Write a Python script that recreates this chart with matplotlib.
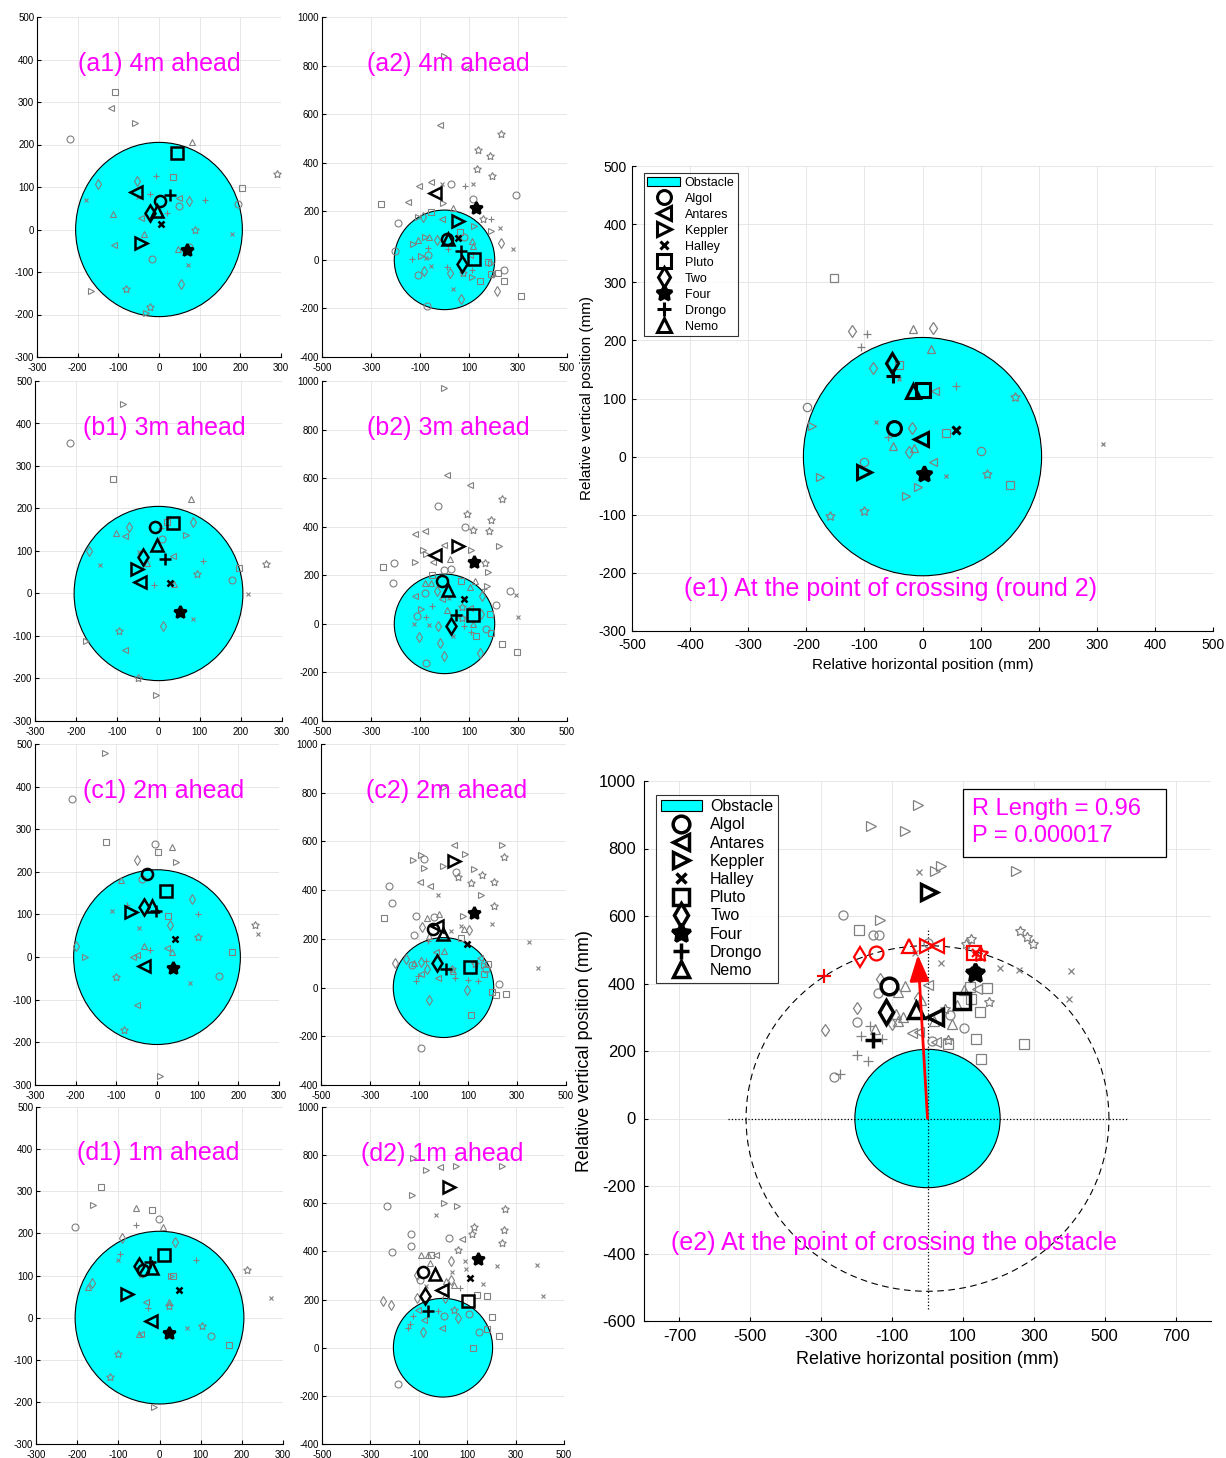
import numpy as np
import matplotlib
matplotlib.use("Agg")
import matplotlib.pyplot as plt
from matplotlib.patches import Circle, Rectangle

plt.rcParams["font.family"] = ["Liberation Sans", "DejaVu Sans"]
plt.rcParams["axes.unicode_minus"] = False

# individuals, in legend order
NAMES = ["Algol", "Antares", "Keppler", "Halley", "Pluto", "Two", "Four", "Drongo", "Nemo"]
MARKERS = ["o", "<", ">", "x", "s", "d", "*", "+", "^"]

OBSTACLE_R = 205

# ---- single trials (grey) and individual means (black), per panel ----
a1_trials = [("o", -218, 214), ("s", -109, 323), ("<", -117, 286), (">", -58, 251), ("^", 81, 206),
             ("*", 289, 130), ("s", 205, 98), ("o", 195, 59), ("x", 179, -11), ("d", -151, 107),
             ("d", -55, 114), ("+", -8, 126), ("s", 34, 123), ("x", -180, 70), ("+", -22, 84),
             ("x", -51, 76), ("<", 49, 73), ("d", 75, 68), ("+", 114, 69), ("o", 50, 56),
             ("+", 20, 40), ("^", -114, 37), ("<", -44, 26), ("^", -36, -11), ("<", -111, -36),
             ("*", 88, -1), ("o", -16, -69), ("^", 46, -45), ("o", 75, -40), ("x", 71, -83),
             ("d", 53, -128), (">", -168, -145), ("*", -82, -141), ("*", -21, -182), (">", -31, -196)]
a1_mean_x = [2, -56, -45, 5, 44, -21, 69, 27, -4]
a1_mean_y = [66, 89, -32, 12, 181, 39, -49, 81, 44]

a2_trials = [(">", -3, 839), ("<", 92, 789), ("<", -20, 557), ("*", 229, 520), ("*", 137, 454),
             ("*", 187, 427), ("*", 134, 374), ("*", 195, 347), ("<", -57, 319), ("x", -9, 313),
             ("o", 27, 313), ("+", 85, 304), ("x", 116, 313), ("<", -103, 303), ("o", 292, 266),
             ("s", -258, 232), ("<", -148, 240), ("o", 116, 250), (">", -7, 233), ("^", 35, 215),
             ("*", 157, 167), ("+", 188, 167), ("x", 228, 131), (">", 122, 139), (">", 191, 117),
             ("d", 229, 70), ("x", 281, 46), ("o", -190, 151), ("o", -204, 38), (">", -110, 175),
             ("d", -88, 178), ("s", -54, 196), ("<", -10, 170), ("^", -65, 96), (">", -78, 95),
             ("^", -107, 80), (">", -129, 66), ("+", -67, 47), ("+", -131, 5), (">", -96, 17),
             ("x", -77, 9), ("o", -67, 19), ("x", -54, -24), ("d", -84, -47), ("o", -107, -63),
             ("d", -29, 83), ("+", 16, 43), ("s", 63, 113), ("o", 81, 96), ("^", 112, 79),
             ("^", 118, 57), ("<", 103, 20), ("+", 10, -28), ("d", 24, -55), ("*", 76, -55),
             ("+", 112, -43), (">", 111, -69), ("s", 143, -85), ("s", 176, -10), (">", 190, -14),
             ("s", 188, -58), ("+", 199, -62), ("s", 217, -55), ("o", 243, -40), ("s", 241, -85),
             ("d", 213, -127), ("s", 311, -150), ("x", 33, -118), ("d", 67, -160), ("o", -73, -188)]
a2_mean_x = [12, -40, 55, 55, 120, 70, 130, 66, 14]
a2_mean_y = [84, 275, 162, 92, 4, -18, 215, 38, 87]

b1_trials = [(">", -87, 445), ("o", -214, 353), ("s", -111, 269), ("^", 80, 222), ("s", 21, 168),
             ("d", 83, 169), ("+", 6, 153), ("d", -72, 156), ("^", -103, 143), ("<", -81, 135),
             (">", 67, 138), ("o", 9, 128), ("d", -168, 101), ("x", -48, 97), ("<", 35, 88),
             ("^", -29, 71), ("+", 108, 76), ("x", -141, 66), ("*", 94, 45), ("s", 196, 59),
             ("*", 262, 70), ("o", 179, 31), ("^", 38, 23), ("+", -12, 19), ("x", 217, -2),
             ("x", 83, -61), ("d", 11, -76), ("*", -95, -88), (">", -177, -112), ("<", -81, -132),
             ("*", -51, -200), (">", -6, -240)]
b1_mean_x = [-9, -45, -53, 29, 35, -37, 53, 17, -3]
b1_mean_y = [157, 28, 57, 25, 165, 87, -43, 82, 114]

b2_trials = [(">", -1, 970), ("<", 10, 615), ("<", 104, 573), ("*", 233, 515), ("o", -27, 484),
             ("*", 91, 452), ("*", 188, 429), ("o", 85, 400), ("*", 118, 388), ("*", 180, 384),
             ("<", -121, 370), ("<", -80, 384), (">", 224, 319), (">", 110, 305), (">", -88, 305),
             (">", -75, 286), ("<", -3, 325), (">", -121, 255), ("o", -205, 252), ("s", -252, 233),
             ("<", -45, 256), ("^", 23, 266), ("*", 165, 252), (">", 179, 215), ("o", 28, 227),
             ("o", -3, 222), ("s", -49, 200), ("o", -210, 167), ("^", -79, 168), ("^", -57, 170),
             (">", 175, 156), ("^", 125, 175), ("s", 69, 175), ("^", 103, 153), ("+", 161, 145),
             ("d", 152, 115), ("o", 266, 134), ("x", 293, 120), ("o", 210, 78), ("x", 301, 27),
             ("o", -80, 126), ("<", -119, 116), ("<", -9, 101), ("x", 19, 105), ("d", -31, 137),
             (">", -96, 60), ("+", -53, 74), ("^", 9, 58), ("*", 73, 71), ("<", 104, 66),
             ("o", -111, 34), ("x", -125, 0), ("+", -76, 27), ("x", -62, -3), ("d", -26, -10),
             ("+", 79, -7), ("*", 70, 23), ("d", 150, 41), ("^", 117, 0), ("s", 187, 41),
             ("o", 171, -21), ("s", 188, -37), ("+", 108, -34), ("s", 130, -51), ("x", 33, -51),
             ("d", -106, -55), ("d", -19, -79), ("s", 233, -82), ("s", 297, -116), ("d", 144, -119),
             ("d", -4, -134), ("o", -75, -162)]
b2_mean_x = [-12, -37, 56, 79, 117, 27, 119, 45, 16]
b2_mean_y = [175, 285, 322, 101, 37, -8, 255, 38, 141]

c1_trials = [(">", -127, 480), ("o", -208, 372), ("s", -125, 269), ("o", -5, 266), ("^", 37, 258),
             ("s", 2, 246), ("d", -50, 227), (">", 46, 222), ("^", -88, 180), ("o", -37, 183),
             ("d", 87, 136), ("x", -110, 109), ("+", -73, 122), ("s", 27, 97), ("+", 100, 100),
             ("d", 33, 76), ("x", -44, 69), ("*", 101, 47), ("s", 184, 11), ("*", 242, 76),
             ("x", 248, 54), ("d", -199, 25), (">", -177, 1), ("^", -33, 27), ("+", -18, 16),
             ("<", 25, 22), ("^", 37, 12), ("<", -48, 5), ("<", -59, 0), ("*", -102, -47),
             ("x", 82, -60), ("o", 153, -44), ("<", -48, -113), ("*", -82, -171), (">", 7, -278)]
c1_mean_x = [-24, -31, -63, 44, 22, -33, 39, -2, -12]
c1_mean_y = [194, -21, 106, 43, 156, 117, -25, 108, 121]

c2_trials = [(">", 3, 825), ("<", 42, 585), (">", 238, 585), ("*", 246, 535), (">", -126, 523),
             ("o", -81, 528), (">", -91, 543), (">", 87, 550), (">", -3, 498), (">", -81, 489),
             ("o", 53, 476), ("*", 59, 454), (">", 126, 487), ("*", 158, 464), ("<", -95, 435),
             ("<", -55, 418), ("o", -223, 416), ("x", -23, 382), ("*", 114, 430), ("*", 206, 433),
             (">", 154, 382), ("*", 206, 336), ("x", 197, 260), ("x", 350, 188), ("x", 384, 79),
             ("o", -209, 348), ("s", -241, 284), ("o", -111, 293), ("^", -68, 284), ("^", -20, 303),
             ("o", -39, 290), (">", 79, 293), ("^", 85, 240), ("d", 105, 235), ("x", 70, 252),
             ("o", -119, 215), ("d", -89, 247), ("^", -61, 210), ("+", -63, 193), ("s", 72, 204),
             ("x", 32, 231), ("^", 1, 149), ("<", -31, 144), ("d", -196, 100), ("d", -153, 117),
             ("^", -121, 100), ("d", -91, 105), ("+", -73, 109), ("o", -129, 91), ("d", -69, 78),
             ("<", -91, 57), ("+", -106, 46), ("+", -113, 27), ("<", -23, 41), ("*", 35, 78),
             ("+", 48, 41), ("^", 39, 67), ("*", 128, 95), ("<", 150, 122), (">", 165, 92),
             ("s", 182, 95), ("o", 173, 77), ("s", 165, 54), ("+", 101, 31), ("+", 141, 25),
             ("d", 94, -12), ("s", 199, -17), ("s", 214, -31), ("s", 254, -27), ("o", 226, 15),
             ("d", -59, -53), ("s", 113, -113), ("o", -92, -250)]
c2_mean_x = [-43, -27, 42, 96, 107, -25, 125, 9, -1]
c2_mean_y = [241, 254, 519, 178, 83, 100, 307, 76, 218]

d1_trials = [("s", -143, 309), (">", -161, 267), ("^", -56, 260), ("s", -19, 255), ("o", -1, 233),
             ("+", -57, 220), ("^", 8, 216), ("o", -206, 215), ("d", -92, 190), ("d", 38, 179),
             ("+", -97, 150), ("x", -100, 137), ("+", 88, 137), ("x", -44, 100), (">", 27, 98),
             ("s", 33, 100), ("*", 212, 113), ("x", 270, 46), ("d", -164, 83), ("^", -174, 72),
             ("<", -34, 38), ("+", -28, 22), ("^", 24, 37), ("*", 23, 28), ("x", 66, -24),
             ("*", 104, -19), ("o", 125, -44), ("<", -45, -40), ("^", -49, -38), ("s", 169, -64),
             ("*", -101, -87), ("*", -120, -140), (">", -13, -213)]
d1_mean_x = [-41, -20, -79, 48, 11, -49, 24, -24, -18]
d1_mean_y = [114, -9, 56, 65, 149, 123, -36, 131, 117]

d2_trials = [(">", -124, 790), (">", -70, 740), ("<", -13, 750), (">", 53, 754), (">", 245, 755),
             (">", -127, 636), (">", 5, 600), (">", 56, 589), ("o", -233, 589), ("*", 255, 578),
             ("x", -30, 552), ("*", 128, 502), ("*", 121, 471), ("*", 251, 487), ("o", -134, 474),
             ("o", 26, 456), ("<", 78, 452), ("*", 245, 434), ("o", -131, 421), ("o", -210, 399),
             ("*", 63, 405), ("^", -92, 384), ("^", -64, 384), ("s", -48, 385), ("<", -28, 385),
             ("x", 91, 360), ("x", 97, 326), ("^", -53, 352), ("d", 35, 361), ("x", 38, 316),
             ("x", 225, 341), ("x", 165, 263), ("x", 388, 342), ("x", 414, 214), ("d", -109, 303),
             ("o", -93, 283), ("^", 13, 276), ("d", 34, 282), ("^", 44, 261), ("+", 71, 250),
             ("x", -70, 255), ("s", 140, 221), ("s", 180, 213), ("d", -107, 207), ("d", 9, 208),
             ("d", -247, 194), ("d", -214, 177), ("<", -104, 158), ("+", -124, 130), ("+", -145, 81),
             ("+", -136, 97), ("<", -78, 117), ("d", -84, 65), ("+", -20, 151), ("o", 5, 130),
             ("*", 44, 155), ("d", 60, 123), ("<", -5, 80), ("o", 107, 141), ("s", 201, 128),
             ("s", 180, 79), ("o", 147, 65), ("s", 233, 47), ("s", 122, -2), ("o", -186, -152)]
d2_mean_x = [-84, -6, 24, 111, 102, -73, 143, -60, -33]
d2_mean_y = [313, 240, 667, 290, 195, 214, 367, 152, 307]

e1_trials = [("s", -152, 307), ("d", -121, 216), ("+", -95, 211), ("^", -17, 220), ("d", 18, 222),
             ("+", -105, 188), ("^", 14, 186), ("d", -85, 153), ("s", -41, 158), ("x", -41, 133),
             ("<", 21, 113), ("+", 57, 121), ("*", 159, 102), ("o", -198, 85), (">", -191, 52),
             ("x", -80, 59), ("d", -18, 49), ("+", -59, 34), ("s", 40, 41), ("^", -51, 19),
             ("^", -15, 15), ("d", -23, 8), ("<", 18, -10), ("o", -100, -10), ("o", 100, 10),
             ("x", 310, 22), (">", -176, -35), ("x", 40, -33), ("*", 111, -30), ("s", 151, -48),
             (">", -7, -53), (">", -29, -68), ("*", -160, -102), ("*", -101, -93)]
e1_mean_x = [-49, -3, -100, 57, 0, -52, 2, -51, -17]
e1_mean_y = [49, 30, -26, 45, 115, 161, -30, 138, 113]

e2_trials = [(">", -28, 929), (">", -159, 866), (">", -63, 852), ("x", -24, 730), (">", 20, 733),
             (">", 39, 747), (">", 250, 733), ("o", -239, 602), (">", -133, 587), ("s", -192, 560),
             ("o", -153, 544), ("o", -137, 544), ("o", 1, 519), ("*", 262, 557), ("*", 282, 537),
             ("*", 297, 516), ("*", 123, 532), ("*", 108, 516), ("x", 205, 445), ("x", 257, 440),
             ("x", 406, 437), ("x", 398, 355), ("x", 38, 460), ("x", -35, 489), ("<", 2, 396),
             ("d", -133, 413), ("^", -64, 393), ("^", -82, 376), ("o", -140, 372), ("s", 120, 390),
             ("<", 141, 384), ("s", 167, 388), ("^", 102, 382), ("s", 123, 354), ("*", 173, 344),
             ("s", 149, 317), ("^", 84, 337), ("d", -198, 328), ("d", -27, 358), ("^", -18, 350),
             ("o", -200, 287), ("d", -288, 263), ("+", -162, 273), ("+", -188, 244), ("+", -128, 235),
             ("^", -147, 265), ("d", -100, 279), ("^", -70, 300), ("^", -82, 290), ("^", -90, 311),
             ("<", -43, 253), ("<", -23, 255), ("^", 19, 288), ("o", 64, 308), ("^", 68, 279),
             ("*", 49, 323), ("o", 103, 267), ("<", 23, 227), ("o", 13, 229), ("*", 57, 233),
             ("s", 57, 220), ("s", 137, 237), ("s", 273, 220), ("s", 150, 176), ("+", -200, 187),
             ("+", -169, 169), ("o", -263, 122), ("+", -246, 133)]
e2_mean_x = [-109, 20, 5, 134, 97, -117, 135, -153, -32]
e2_mean_y = [393, 302, 672, 433, 347, 315, 431, 232, 321]

# mean heading of each individual, projected on the outer circle (red)
e2_dir_x = [-145, 27, -1, 137, 132, -191, 149, -291, -51]
e2_dir_y = [491, 511, 511, 491, 491, 478, 487, 423, 511]
e2_dir_r = 512
e2_vec = (-27, 485)
r_length = 0.96
p_value = 0.000017

GRAY = (0.5, 0.5, 0.5)
MAGENTA = "#ff00ff"
STAR = (5, 1, 0)
W, H = 1226, 1458

fig = plt.figure(figsize=(W / 100, H / 100), dpi=100)


def add_ax(l, t, r, b):
    return fig.add_axes([l / W, 1 - b / H, (r - l) / W, (b - t) / H])


def style(ax, xlim, xticks, ylim, yticks, size, xpad=2, ypad=2):
    ax.set_xlim(*xlim)
    ax.set_ylim(*ylim)
    ax.set_xticks(xticks)
    ax.set_yticks(yticks)
    ax.grid(True, color="#e3e3e3", lw=0.6)
    ax.set_axisbelow(True)
    for s in ("top", "right"):
        ax.spines[s].set_visible(False)
    for s in ("left", "bottom"):
        ax.spines[s].set_linewidth(0.8)
    ax.tick_params(direction="in", length=3, labelsize=size, width=0.8)
    ax.tick_params(axis="x", pad=xpad)
    ax.tick_params(axis="y", pad=ypad)


def mark(ax, m, x, y, ms, color, mew, z, label=None, fill=False):
    if m == "*":
        shape, size = STAR, ms * 1.15
    elif m == "x":
        shape, size = "x", ms * 0.6
    else:
        shape, size = m, ms
    fc = color if (fill and m == "*") else "none"
    ax.plot(x, y, marker=shape, ms=size, mfc=fc, mec=color, mew=mew, ls="none", zorder=z, label=label)


def draw(ax, trials, mx, my, ms_g, mew_g, ms_b, mew_b):
    ax.add_patch(Circle((0, 0), OBSTACLE_R, fc="cyan", ec="black", lw=0.8, zorder=1, label="Obstacle"))
    for m, x, y in trials:
        mark(ax, m, x, y, ms_g, GRAY, mew_g, 2)
    for name, m, x, y in zip(NAMES, MARKERS, mx, my):
        mark(ax, m, x, y, ms_b, "black", mew_b, 3, label=name, fill=True)


small = [
    ("(a1) 4m ahead", (37, 17, 281, 357), a1_trials, a1_mean_x, a1_mean_y, False, (-200, 390)),
    ("(a2) 4m ahead", (322, 17, 567, 357), a2_trials, a2_mean_x, a2_mean_y, True, (-315, 806)),
    ("(b1) 3m ahead", (35, 381, 282, 721), b1_trials, b1_mean_x, b1_mean_y, False, (-183, 390)),
    ("(b2) 3m ahead", (322, 381, 567, 721), b2_trials, b2_mean_x, b2_mean_y, True, (-315, 806)),
    ("(c1) 2m ahead", (35, 744, 279, 1085), c1_trials, c1_mean_x, c1_mean_y, False, (-183, 390)),
    ("(c2) 2m ahead", (321, 744, 566, 1085), c2_trials, c2_mean_x, c2_mean_y, True, (-315, 806)),
    ("(d1) 1m ahead", (36, 1107, 283, 1444), d1_trials, d1_mean_x, d1_mean_y, False, (-200, 390)),
    ("(d2) 1m ahead", (322, 1107, 564, 1444), d2_trials, d2_mean_x, d2_mean_y, True, (-340, 806)),
]

for title, box, trials, mx, my, wide, tpos in small:
    ax = add_ax(*box)
    if wide:
        style(ax, (-500, 500), [-500, -300, -100, 100, 300, 500], (-400, 1000), range(-400, 1001, 200), 7,
              xpad=4)
    else:
        style(ax, (-300, 300), range(-300, 301, 100), (-300, 500), range(-300, 501, 100), 7, xpad=4)
    draw(ax, trials, mx, my, 5, 0.8, 8, 1.8)
    ax.text(tpos[0], tpos[1], title, color=MAGENTA, fontsize=18, va="center", ha="left", zorder=5)

# ---- e1 ----
ax = add_ax(632, 166, 1213, 631)
style(ax, (-500, 500), range(-500, 501, 100), (-300, 500), range(-300, 501, 100), 10, xpad=5, ypad=4)
draw(ax, e1_trials, e1_mean_x, e1_mean_y, 6, 0.9, 10, 2.2)
ax.set_xlabel("Relative horizontal position (mm)", fontsize=11, labelpad=4)
ax.set_ylabel("Relative vertical position (mm)", fontsize=11, labelpad=3)
ax.text(-410, -228, "(e1) At the point of crossing (round 2)", color=MAGENTA, fontsize=18,
        va="center", ha="left", zorder=5)
leg = ax.legend(loc="upper left", bbox_to_anchor=(0.02, 0.985), fontsize=9, frameon=True, fancybox=False,
                edgecolor="black", handlelength=2.6, labelspacing=0.32, borderpad=0.3,
                handletextpad=0.4, borderaxespad=0)
leg.get_frame().set_linewidth(0.8)

# ---- e2 ----
ax = add_ax(644, 781, 1211, 1321)
style(ax, (-800, 800), range(-700, 701, 200), (-600, 1000), range(-600, 1001, 200), 12, xpad=6, ypad=6)
draw(ax, e2_trials, e2_mean_x, e2_mean_y, 6.5, 0.9, 12, 2.5)
t = np.linspace(0, 2 * np.pi, 300)
ax.plot(e2_dir_r * np.cos(t), e2_dir_r * np.sin(t), ls=(0, (6, 4)), color="black", lw=0.8, zorder=1.5)
ax.plot([-1.1 * e2_dir_r, 1.1 * e2_dir_r], [0, 0], ls=":", color="black", lw=0.9, zorder=1.6)
ax.plot([0, 0], [-1.1 * e2_dir_r, 1.1 * e2_dir_r], ls=":", color="black", lw=0.9, zorder=1.6)
for m, x, y in zip(MARKERS, e2_dir_x, e2_dir_y):
    mark(ax, m, x, y, 10, "red", 1.6, 4)
ax.annotate("", xy=e2_vec, xytext=(0, 0), zorder=6,
            arrowprops=dict(arrowstyle="-|>,head_length=0.8,head_width=0.3", color="red", lw=2,
                            shrinkA=0, shrinkB=0, mutation_scale=20))
ax.set_xlabel("Relative horizontal position (mm)", fontsize=13, labelpad=5)
ax.set_ylabel("Relative vertical position (mm)", fontsize=13, labelpad=4)
ax.text(-725, -370, "(e2) At the point of crossing the obstacle", color=MAGENTA, fontsize=18,
        va="center", ha="left", zorder=7)
ax.add_patch(Rectangle((0.5626, 0.859), 0.358, 0.126, transform=ax.transAxes, fc="white",
                       ec="black", lw=0.9, zorder=7))
ax.text(0.578, 0.948, f"R Length = {r_length:.2f}", transform=ax.transAxes, color=MAGENTA,
        fontsize=17, va="center", ha="left", zorder=8)
ax.text(0.578, 0.898, f"P = {p_value:.6f}", transform=ax.transAxes, color=MAGENTA,
        fontsize=17, va="center", ha="left", zorder=8)
leg = ax.legend(loc="upper left", bbox_to_anchor=(0.021, 0.975), fontsize=11.5, frameon=True,
                fancybox=False, edgecolor="black", handlelength=2.6, labelspacing=0.2,
                borderpad=0.3, handletextpad=0.5, borderaxespad=0)
leg.get_frame().set_linewidth(0.8)
leg.set_zorder(9)

fig.savefig("out.png", dpi=100)
